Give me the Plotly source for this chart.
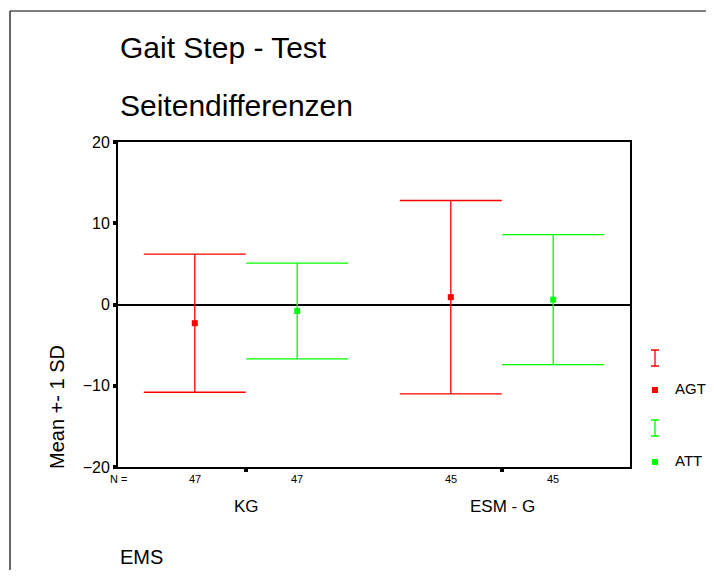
import plotly.graph_objects as go

categories = ["KG", "ESM - G"]
series = ["AGT", "ATT"]
colors = {"AGT": "#FF0000", "ATT": "#00FF00"}
means = {"AGT": [-2.3, 0.9], "ATT": [-0.8, 0.6]}
sd = {"AGT": [8.5, 11.9], "ATT": [5.9, 8.0]}
n_values = {"AGT": [47, 45], "ATT": [47, 45]}
offsets = {"AGT": -0.2, "ATT": 0.2}
y_ticks = [-20, -10, 0, 10, 20]

# page has an 8px body margin; figure is placed at (8, 8)
OFF = 8
W, H = 714 - 2 * OFF, 578 - 2 * OFF
L, T = 118 - OFF, 142 - OFF
B = H - (467 - OFF)
R = 4
plot_w = W - L - R
plot_h = H - T - B
main_dom = (630 - OFF - L) / plot_w

fig = go.Figure()
cat_x = [i + 1 for i in range(len(categories))]
for s in series:
    xs = [c + offsets[s] for c in cat_x]
    fig.add_trace(go.Scatter(
        x=xs, y=means[s], mode="markers", name=s, showlegend=False,
        marker=dict(symbol="square", size=6, color=colors[s]),
        error_y=dict(type="data", array=sd[s], color=colors[s], thickness=1.3, width=51),
        xaxis="x", yaxis="y",
    ))

# legend drawn on an auxiliary axis (page-pixel coordinates)
leg_y = {"AGT": (358, 390), "ATT": (428, 462)}
for s in series:
    ybar, ymark = leg_y[s]
    fig.add_trace(go.Scatter(
        x=[655], y=[ybar], mode="markers", showlegend=False,
        marker=dict(size=1, color="rgba(0,0,0,0)"),
        error_y=dict(type="constant", value=8, color=colors[s], thickness=1.3, width=4),
        xaxis="x2", yaxis="y2", hoverinfo="skip",
    ))
    fig.add_trace(go.Scatter(
        x=[655], y=[ymark], mode="markers", showlegend=False,
        marker=dict(symbol="square", size=6, color=colors[s]),
        xaxis="x2", yaxis="y2", hoverinfo="skip",
    ))

annotations = []
for s in series:
    annotations.append(dict(x=673, y=leg_y[s][1] - 2, xref="x2", yref="y2", text=s,
                            showarrow=False, xanchor="left", yanchor="middle",
                            font=dict(size=15, color="black")))
    for c, n in zip(cat_x, n_values[s]):
        annotations.append(dict(x=c + offsets[s], y=0, xref="x", yref="paper", text=str(n),
                                showarrow=False, yanchor="middle", yshift=-12,
                                font=dict(size=11, color="black")))
annotations.append(dict(x=0, y=0, xref="paper", yref="paper", text="N =",
                        showarrow=False, xanchor="center", yanchor="middle", yshift=-12,
                        font=dict(size=11, color="black")))
for c, name in zip(cat_x, categories):
    annotations.append(dict(x=c, y=0, xref="x", yref="paper", text=name,
                            showarrow=False, yanchor="middle", yshift=-39,
                            font=dict(size=17, color="black")))
annotations += [
    dict(x=0, y=1, xref="paper", yref="paper", text="Gait Step - Test", showarrow=False,
         xanchor="left", yanchor="middle", yshift=142 - 47, font=dict(size=30, color="black")),
    dict(x=0, y=1, xref="paper", yref="paper", text="Seitendifferenzen", showarrow=False,
         xanchor="left", yanchor="middle", yshift=142 - 105, font=dict(size=30, color="black")),
    dict(x=0, y=0, xref="paper", yref="paper", text="EMS", showarrow=False,
         xanchor="left", yanchor="middle", yshift=-(557 - 467), font=dict(size=20, color="black")),
    dict(x=0, y=0.5, xref="paper", yref="paper", text="Mean +- 1 SD", showarrow=False,
         textangle=-90, xanchor="center", yanchor="middle", xshift=-(118 - 57),
         yshift=-(407 - 304.5), font=dict(size=20, color="black")),
]

frame_top = 1 + (T - (11 - OFF)) / plot_h
frame_left = ((10 - OFF) - L) / plot_w
shapes = [
    dict(type="line", xref="paper", yref="paper", x0=frame_left, x1=(W + 5 - L) / plot_w,
         y0=frame_top, y1=frame_top, line=dict(color="black", width=1.2)),
    dict(type="line", xref="paper", yref="paper", x0=frame_left, x1=frame_left,
         y0=frame_top, y1=-(B + 5) / plot_h, line=dict(color="black", width=1.2)),
]

x2_dom0 = main_dom + 0.01
x2_px0 = L + x2_dom0 * plot_w + OFF
x2_px1 = L + plot_w + OFF

fig.update_layout(
    width=W, height=H,
    margin=dict(l=L, r=R, t=T, b=B),
    paper_bgcolor="white", plot_bgcolor="white",
    font=dict(family="Liberation Sans, Arial, sans-serif", color="black"),
    showlegend=False,
    xaxis=dict(domain=[0, main_dom], range=[0.5, 2.5], tickvals=cat_x, ticktext=["", ""],
               ticks="outside", ticklen=3, tickwidth=4, tickcolor="black",
               showgrid=False, zeroline=False, showline=True, linecolor="black",
               linewidth=1.5, mirror=True, fixedrange=True),
    yaxis=dict(range=[-20, 20], tickvals=y_ticks, ticks="outside", ticklen=3, tickwidth=4,
               tickcolor="black", tickfont=dict(size=16), showgrid=False,
               zeroline=True, zerolinecolor="black", zerolinewidth=1.5,
               showline=True, linecolor="black", linewidth=1.8, mirror=True, fixedrange=True),
    xaxis2=dict(domain=[x2_dom0, 1], range=[x2_px0, x2_px1], visible=False, fixedrange=True),
    yaxis2=dict(domain=[0, 1], range=[467, 142], anchor="x2", visible=False, fixedrange=True),
    annotations=annotations,
    shapes=shapes,
)

fig.write_html("out.html")
